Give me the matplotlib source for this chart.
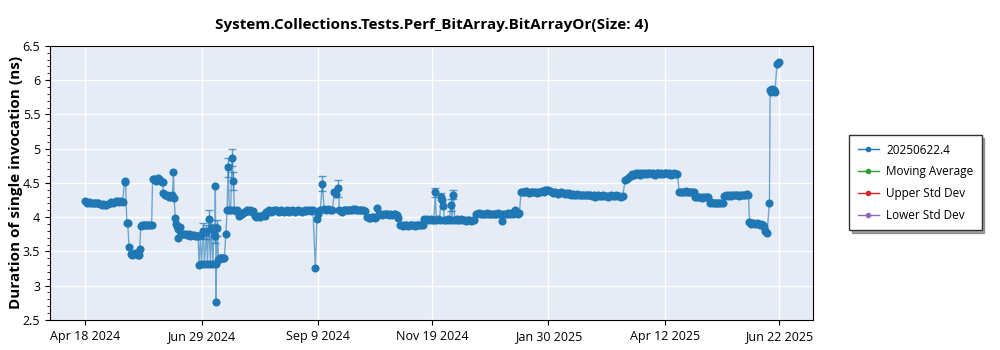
import matplotlib
matplotlib.use("Agg")
import matplotlib.pyplot as plt
from matplotlib.ticker import MultipleLocator
import numpy as np

plt.rcParams['font.family'] = ['Open Sans', 'DejaVu Sans']

start = np.datetime64('2024-04-18')

# run offsets in days from the first run, and measured times in ns
days = [
    0, 1, 2, 3, 4, 5, 6, 7, 8, 9, 10, 11, 12, 13, 14, 15, 16, 17, 18, 19, 20, 21, 22, 23,
    24.2, 24.8, 25.6, 26.2, 27, 28, 28.8, 29.6, 30.4, 31.2, 32, 32.8, 33.3, 33.6,
    34.3, 35, 36, 37, 38, 39, 40, 41,
    41.6, 42.3, 43, 43.7, 44.4, 45.1, 45.8, 46.5, 47.2, 47.8,
    48.3, 49, 49.7, 50.4, 51.1, 51.8, 52.5, 53.2, 53.9, 54.5, 55, 55.6, 56.1, 56.6, 57.1, 57.6, 58.3,
    59, 60, 61, 62, 63, 64, 65, 66, 67, 68, 69, 69.8,
    70.4, 71.3, 71.9, 73.1, 73.7, 75, 75.6, 76.5, 77.4, 78, 79, 79.6, 80.2,
    80.5, 81, 81.2, 81.8, 82.4, 83, 83.6, 84.3, 84.9, 85.5, 86.1, 87, 87.8, 88.4, 89.2,
    90, 90.9, 91.7, 92.3, 93, 94, 95, 96, 97, 98, 99, 100, 101, 102, 103, 104,
    105, 106, 107, 108, 109, 110, 111,
    112, 113, 114, 115, 116, 117, 118, 119, 120, 121, 122, 123, 124, 125, 126,
    127, 128, 129, 130, 131, 132, 133, 134, 135, 136, 137, 138, 139, 140, 141,
    142.5, 143.5, 144.4, 145.6, 146.8, 148, 149.3, 150.6, 151.8, 153, 154.3, 155.5, 156.8,
    157.4, 158.3, 159.2, 160, 161, 162, 163, 164, 165, 166, 167, 168, 169, 170, 171, 172, 173,
    174.7, 175.5, 176.5, 177.5, 178.5, 179.5, 180, 181, 182, 183, 184, 185, 186, 187, 188,
    189, 190, 191, 192, 193,
    194, 195, 196, 197, 198, 199, 200, 201, 202, 203, 204, 205, 206, 207, 208, 209,
    210, 211, 212, 213, 214, 215, 216, 216.9, 217.5, 218.5, 219.5, 220.6, 221.2, 221.8,
    222.5, 223.5, 224.5, 225.5, 226.6, 227.3, 228, 229, 230, 231, 232, 233, 234, 235,
    236, 237, 238, 239, 240, 241,
    242, 243, 244, 245, 246, 247, 248, 249, 250, 251, 252, 253, 254, 255, 256, 257,
    258, 259, 260, 261, 262, 263, 264, 265, 266, 267, 268, 269,
    270, 271, 272, 273, 274, 275, 276, 277, 278, 279, 280, 281, 282, 283, 284,
    285, 286, 287, 288, 289, 290, 291, 292, 293, 294, 295, 296, 297, 298, 299, 300,
    301, 302, 303, 304, 305, 306, 307, 308, 309, 310, 311, 312, 313, 314, 315, 316,
    317, 318, 319, 320, 321, 322, 323, 324, 325, 326, 327, 328, 329, 330, 331, 332, 333,
    334.6, 335.8, 337, 338, 339,
    340, 341, 342, 343, 344, 345, 346, 347, 348, 349, 350, 351, 352, 353,
    354, 355, 356, 357, 358, 359, 360, 361, 362, 363, 364, 365, 366, 367,
    368, 369, 370, 371, 372, 373, 374, 375, 376, 377, 378,
    379, 380, 381, 382, 383, 384, 385, 386,
    387, 388, 389, 390, 391, 392, 393, 394, 395, 396,
    397, 398, 399, 400, 401, 402, 403, 404, 405, 406, 407, 408, 409, 410, 411,
    411.6, 412.3, 413, 414, 415, 416, 417, 418, 419, 420, 420.7, 421.3, 422, 422.5,
    424, 424.4, 425, 425.6, 426.2, 426.8, 427.4, 428.7, 429.4, 430,
]
values = [
    4.23, 4.21, 4.22, 4.21, 4.21, 4.20, 4.21, 4.20, 4.20, 4.19, 4.18, 4.19, 4.18, 4.17, 4.19, 4.20, 4.22, 4.21, 4.22, 4.23, 4.23, 4.22, 4.23, 4.22,
    4.52, 4.53, 3.92, 3.91, 3.57, 3.46, 3.45, 3.46, 3.47, 3.46, 3.46, 3.45, 3.44, 3.54,
    3.87, 3.88, 3.88, 3.89, 3.88, 3.88, 3.88, 3.89,
    4.55, 4.56, 4.54, 4.53, 4.55, 4.57, 4.56, 4.54, 4.52, 4.52,
    4.35, 4.33, 4.32, 4.33, 4.31, 4.30, 4.31, 4.30, 4.32, 4.66, 4.28, 3.99, 3.90, 3.87, 3.83, 3.70, 3.85,
    3.76, 3.75, 3.75, 3.76, 3.74, 3.75, 3.73, 3.74, 3.74, 3.73, 3.72, 3.73,
    3.30, 3.74, 3.31, 3.80, 3.31, 3.78, 3.31, 3.97, 3.31, 3.84, 3.32, 3.80, 3.72,
    4.45, 2.76, 3.31, 3.84, 3.38, 3.39, 3.40, 3.41, 3.41, 3.40, 3.41, 3.75, 4.10, 4.73, 4.10,
    4.11, 4.87, 4.53, 4.10, 4.09, 4.10, 4.01, 4.03, 4.05, 4.07, 4.08, 4.10, 4.09, 4.10, 4.08, 4.09,
    4.01, 4.00, 4.02, 4.00, 4.01, 4.03, 4.02,
    4.08, 4.09, 4.10, 4.08, 4.09, 4.10, 4.11, 4.09, 4.08, 4.10, 4.09, 4.08, 4.09, 4.10, 4.08,
    4.09, 4.10, 4.09, 4.08, 4.09, 4.10, 4.09, 4.08, 4.09, 4.10, 4.09, 4.11, 4.10, 4.09, 4.10,
    3.26, 3.97, 4.05, 4.10, 4.49, 4.12, 4.11, 4.12, 4.11, 4.10, 4.36, 4.34, 4.42,
    4.10, 4.09, 4.08, 4.10, 4.10, 4.11, 4.11, 4.10, 4.10, 4.12, 4.12, 4.10, 4.11, 4.11, 4.10, 4.10, 4.09,
    4.00, 3.99, 3.99, 4.00, 4.00, 3.99, 4.00, 4.13, 4.05, 4.04, 4.03, 4.04, 4.05, 4.04, 4.03,
    4.04, 4.03, 4.04, 4.04, 4.03,
    3.99, 3.88, 3.88, 3.87, 3.88, 3.88, 3.87, 3.88, 3.88, 3.88, 3.87, 3.88, 3.88, 3.88, 3.88, 3.89,
    3.97, 3.96, 3.97, 3.96, 3.97, 3.96, 3.96, 4.36, 3.96, 3.97, 3.96, 4.30, 4.25, 4.16,
    3.96, 3.96, 3.97, 3.96, 4.18, 3.96, 4.33, 3.96, 3.97, 3.96, 3.96, 3.97, 3.96, 3.96,
    3.95, 3.96, 3.96, 3.95, 3.96, 3.96,
    4.04, 4.05, 4.06, 4.05, 4.04, 4.05, 4.05, 4.06, 4.05, 4.04, 4.05, 4.05, 4.04, 4.05, 4.06, 4.05,
    3.95, 4.04, 4.05, 4.05, 4.06, 4.05, 4.06, 4.05, 4.11, 4.06, 4.05, 4.06,
    4.37, 4.36, 4.37, 4.38, 4.36, 4.35, 4.36, 4.37, 4.36, 4.36, 4.35, 4.36, 4.37, 4.38, 4.37,
    4.39, 4.40, 4.39, 4.38, 4.36, 4.35, 4.36, 4.35, 4.34, 4.35, 4.36, 4.35, 4.34, 4.35, 4.34, 4.35,
    4.33, 4.34, 4.33, 4.33, 4.34, 4.33, 4.32, 4.33, 4.32, 4.33, 4.32, 4.33, 4.32, 4.31, 4.32, 4.30,
    4.31, 4.32, 4.31, 4.31, 4.32, 4.31, 4.31, 4.30, 4.31, 4.32, 4.31, 4.31, 4.32, 4.31, 4.31, 4.30, 4.31,
    4.54, 4.55, 4.58, 4.60, 4.63,
    4.62, 4.64, 4.63, 4.65, 4.62, 4.64, 4.63, 4.65, 4.63, 4.64, 4.65, 4.63, 4.64, 4.62,
    4.64, 4.65, 4.63, 4.64, 4.63, 4.65, 4.64, 4.63, 4.64, 4.62, 4.63, 4.64, 4.63, 4.63,
    4.37, 4.37, 4.36, 4.37, 4.38, 4.36, 4.37, 4.36, 4.37, 4.36, 4.30,
    4.29, 4.30, 4.29, 4.28, 4.29, 4.30, 4.29, 4.29,
    4.21, 4.22, 4.21, 4.20, 4.21, 4.20, 4.21, 4.21, 4.20, 4.31,
    4.32, 4.31, 4.32, 4.31, 4.32, 4.32, 4.33, 4.32, 4.31, 4.32, 4.33, 4.32, 4.33, 4.34, 4.33,
    3.93, 3.90, 3.92, 3.91, 3.90, 3.92, 3.90, 3.89, 3.90, 3.88, 3.85, 3.80, 3.78, 3.77,
    4.21, 5.85, 5.83, 5.87, 5.84, 5.86, 5.83, 6.24, 6.25, 6.27,
]

# runs that carry a visible spread (day, half-width in ns)
spread_days = [73.1, 75.0, 76.5, 78.0, 79.6, 80.2, 81.8, 88.4, 90.9, 91.7,
               146.8, 156.8, 216.9, 220.6, 226.6, 228.0]
spread_size = [0.12, 0.10, 0.13, 0.12, 0.10, 0.10, 0.12, 0.14, 0.13, 0.13,
               0.11, 0.12, 0.06, 0.05, 0.09, 0.06]

tick_dates = ['2024-04-18', '2024-06-29', '2024-09-09', '2024-11-19',
              '2025-01-30', '2025-04-12', '2025-06-22']
tick_labels = ['Apr 18 2024', 'Jun 29 2024', 'Sep 9 2024', 'Nov 19 2024',
               'Jan 30 2025', 'Apr 12 2025', 'Jun 22 2025']

days = np.array(days)
values = np.array(values)
dates = start + (days * 24 * 60).astype('timedelta64[m]')
errs = np.zeros(len(days))
for d, s in zip(spread_days, spread_size):
    errs[np.isclose(days, d)] = s

fig = plt.figure(figsize=(10, 3.5), dpi=100)
ax = fig.add_axes([0.05, 0.086, 0.763, 0.783])
ax.set_facecolor('#E5ECF6')

blue = '#1f77b4'
ax.plot(dates, values, color=blue, lw=1, alpha=0.6, zorder=2)
ax.scatter(dates, values, s=34, color=blue, zorder=3, linewidths=0)
mask = errs > 0
ax.errorbar(dates[mask], values[mask], yerr=errs[mask], fmt='none',
            ecolor=blue, elinewidth=1, capsize=3, alpha=0.7, zorder=2)

# legend entries for the derived series
ax.plot([], [], color=blue, marker='o', ms=3, lw=1, label='20250622.4')
ax.plot([], [], color='#2ca02c', marker='o', ms=3, lw=1, label='Moving Average')
ax.plot([], [], color='#d62728', marker='o', ms=3, lw=1, label='Upper Std Dev')
ax.plot([], [], color='#9467bd', marker='o', ms=3, lw=1, label='Lower Std Dev')

ax.set_ylim(2.5, 6.5)
ax.set_xlim(start - np.timedelta64(22, 'D'), start + np.timedelta64(451, 'D'))
ax.yaxis.set_major_locator(MultipleLocator(0.5))
ax.yaxis.set_minor_locator(MultipleLocator(0.1))
ax.yaxis.set_major_formatter(lambda v, pos: f'{v:g}')
ax.set_xticks(np.array(tick_dates, dtype='datetime64[D]'))
ax.set_xticklabels(tick_labels)
ax.tick_params(labelsize=9)
ax.grid(True, color='white', lw=1)
ax.set_axisbelow(True)
for sp in ax.spines.values():
    sp.set_color('black')

ax.set_ylabel('Duration of single invocation (ns)', fontsize=11, fontweight='bold')
ax.yaxis.set_label_coords(-0.035, 0.5)
ax.set_title('System.Collections.Tests.Perf_BitArray.BitArrayOr(Size: 4)',
             fontsize=11, fontweight='bold', pad=12)

leg = ax.legend(loc='center left', bbox_to_anchor=(1.04, 0.5), fontsize=8.5,
                fancybox=False, shadow=True, framealpha=1, edgecolor='#333333',
                borderpad=0.7, labelspacing=0.75, handlelength=1.8,
                handletextpad=0.6)

plt.savefig('out.png', dpi=100)
